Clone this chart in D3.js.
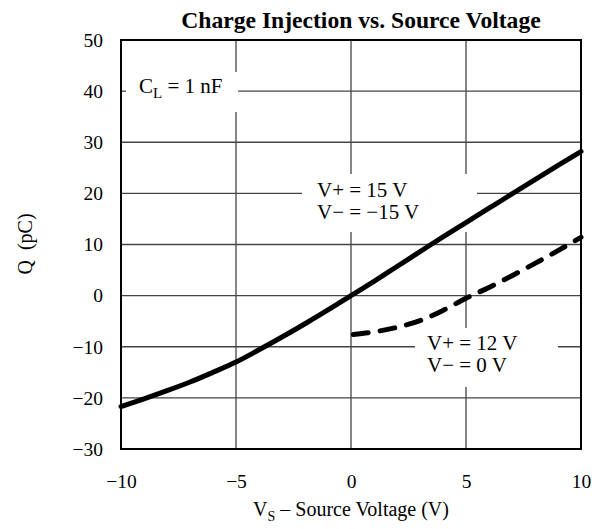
<!DOCTYPE html>
<html>
<head>
<meta charset="utf-8">
<script src="https://cdn.jsdelivr.net/npm/d3@7"></script>
<style>
  body { margin: 0; background: #fff; }
  svg text { font-family: "Liberation Serif", "Times New Roman", serif; fill: #000; }
</style>
</head>
<body>
<div id="chart"></div>
<script>
// data
const xTicks = [-10, -5, 0, 5, 10];
const yTicks = [-30, -20, -10, 0, 10, 20, 30, 40, 50];

// V+ = 15 V, V- = -15 V (solid)
const vsSolid = [-10, -9, -8, -7, -6, -5, -4, -3, -2, -1, 0, 1, 2, 3, 4, 5, 6, 7, 8, 9, 10];
const qSolid = [-21.7, -20.2, -18.6, -16.9, -15.0, -13.0, -10.6, -8.1, -5.5, -2.8, 0, 2.8, 5.7, 8.6, 11.5, 14.3, 17.1, 19.9, 22.7, 25.5, 28.2];

// V+ = 12 V, V- = 0 V (dashed)
const vsDashed = [0.1, 1, 2, 3, 4, 5, 6, 7, 8, 9, 10];
const qDashed = [-7.6, -7.1, -6.2, -4.9, -2.9, -0.5, 1.6, 3.9, 6.3, 8.8, 11.4];

const width = 599, height = 529;
const plot = {left: 121, right: 581, top: 40, bottom: 449};

const svg = d3.select("#chart").append("svg")
    .attr("width", width)
    .attr("height", height);

const x = d3.scaleLinear().domain([-10, 10]).range([plot.left, plot.right]);
const y = d3.scaleLinear().domain([-30, 50]).range([plot.bottom, plot.top]);

//grid lines
const grid = svg.append("g").attr("stroke", "#444").attr("stroke-width", 1.3);
grid.selectAll("line.v").data(xTicks.slice(1, -1)).join("line")
    .attr("x1", d => x(d)).attr("x2", d => x(d))
    .attr("y1", plot.top).attr("y2", plot.bottom);
grid.selectAll("line.h").data(yTicks.slice(1, -1)).join("line")
    .attr("x1", plot.left).attr("x2", plot.right)
    .attr("y1", d => y(d)).attr("y2", d => y(d));

// white boxes behind the annotations
const boxes = [
    {x0: 126, x1: 238, y0: 72, y1: 112},
    {x0: 302, x1: 477, y0: 174, y1: 232},
    {x0: 415, x1: 558, y0: 328, y1: 387}
];
svg.selectAll("rect.box").data(boxes).join("rect")
    .attr("x", d => d.x0).attr("y", d => d.y0)
    .attr("width", d => d.x1 - d.x0).attr("height", d => d.y1 - d.y0)
    .attr("fill", "#fff");

// frame
svg.append("rect")
    .attr("x", plot.left).attr("y", plot.top)
    .attr("width", plot.right - plot.left).attr("height", plot.bottom - plot.top)
    .attr("fill", "none").attr("stroke", "#000").attr("stroke-width", 2);

//curves
const line = d3.line()
    .x(d => x(d[0]))
    .y(d => y(d[1]))
    .curve(d3.curveMonotoneX);

svg.append("path")
    .attr("d", line(d3.zip(vsSolid, qSolid)))
    .attr("fill", "none").attr("stroke", "#000")
    .attr("stroke-width", 5).attr("stroke-linecap", "round");

svg.append("path")
    .attr("d", line(d3.zip(vsDashed, qDashed)))
    .attr("fill", "none").attr("stroke", "#000")
    .attr("stroke-width", 5).attr("stroke-linecap", "round")
    .attr("stroke-dasharray", "15 12");

// axes (labels only)
const xAxis = svg.append("g")
    .attr("transform", `translate(0,${plot.bottom})`)
    .call(d3.axisBottom(x).tickValues(xTicks).tickSize(0).tickPadding(25));
const yAxis = svg.append("g")
    .attr("transform", `translate(${plot.left},0)`)
    .call(d3.axisLeft(y).tickValues(yTicks).tickSize(0).tickPadding(18));
[xAxis, yAxis].forEach(a => {
    a.select(".domain").remove();
    a.selectAll("text")
        .attr("font-family", '"Liberation Serif", "Times New Roman", serif')
        .attr("font-size", 19.5)
        .attr("fill", "#000");
});

// title
svg.append("text")
    .attr("x", 361).attr("y", 28)
    .attr("text-anchor", "middle")
    .attr("font-size", 23.6).attr("font-weight", "bold")
    .text("Charge Injection vs. Source Voltage");

// axis titles
const xt = svg.append("text")
    .attr("x", 351).attr("y", 516)
    .attr("text-anchor", "middle")
    .attr("font-size", 20);
xt.append("tspan").text("V");
xt.append("tspan").attr("font-size", 14).attr("dy", 5).text("S");
xt.append("tspan").attr("dy", -5).text(" \u2013 Source Voltage (V)");

svg.append("text")
    .attr("transform", "translate(32,244) rotate(-90)")
    .attr("text-anchor", "middle")
    .attr("font-size", 20)
    .attr("xml:space", "preserve")
    .text("Q\u00a0 (pC)");

// annotations
const cl = svg.append("text")
    .attr("x", 139).attr("y", 93)
    .attr("font-size", 21);
cl.append("tspan").text("C");
cl.append("tspan").attr("font-size", 15).attr("dy", 5).text("L");
cl.append("tspan").attr("dy", -5).text(" = 1 nF");

const notes = [
    {x: 317, y: 197, t: "V+ = 15 V"},
    {x: 317, y: 219, t: "V\u2212 = \u221215 V"},
    {x: 427, y: 350, t: "V+ = 12 V"},
    {x: 427, y: 372, t: "V\u2212 = 0 V"}
];
svg.selectAll("text.note").data(notes).join("text")
    .attr("class", "note")
    .attr("x", d => d.x).attr("y", d => d.y)
    .attr("font-size", 21)
    .text(d => d.t);
</script>
</body>
</html>
